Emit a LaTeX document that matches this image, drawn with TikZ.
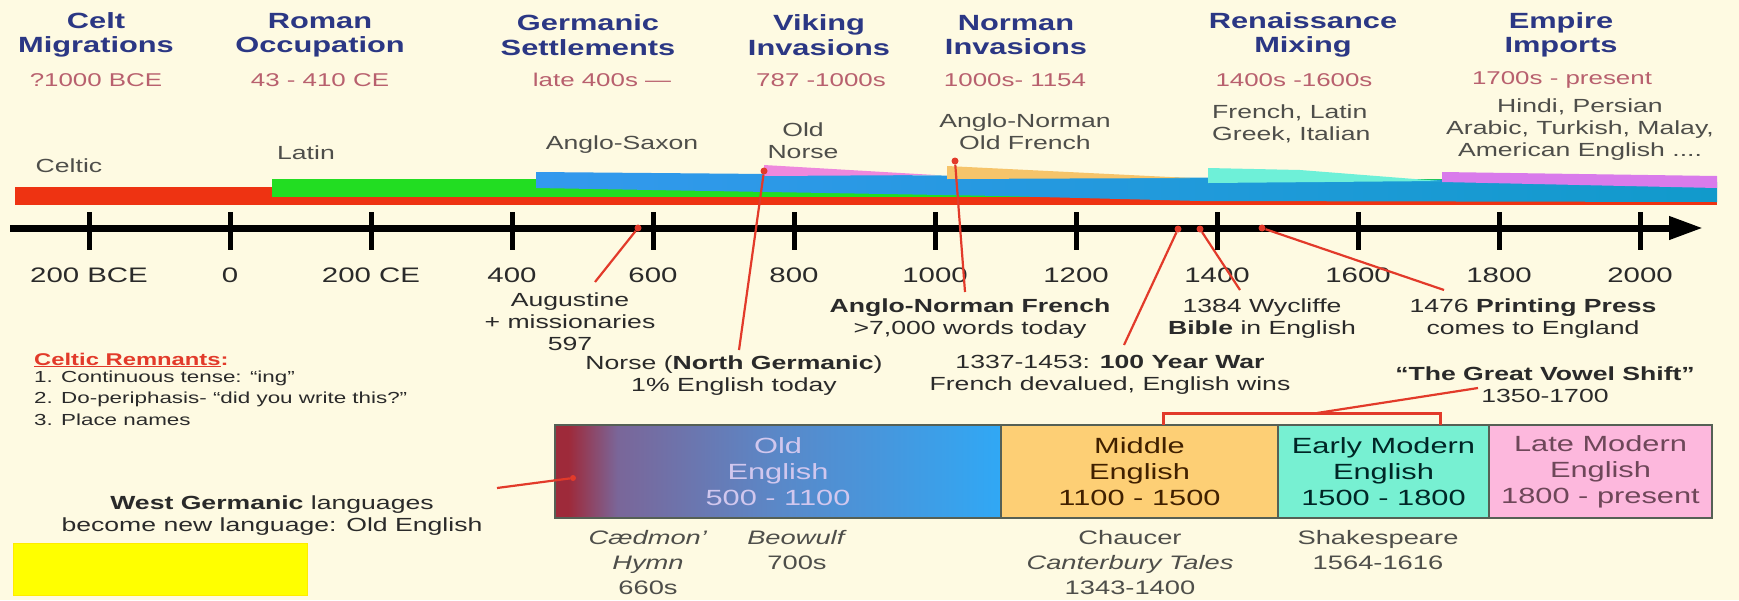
\documentclass[tikz,border=0pt]{standalone}
\usepackage{fontspec}
\setmainfont{Liberation Sans}[FakeStretch=1.4]
\usetikzlibrary{arrows.meta}
\definecolor{bg}{HTML}{FEFAE2}
\definecolor{navy}{HTML}{2B3784}
\definecolor{datecol}{HTML}{B8606E}
\definecolor{lbl}{HTML}{4E4E4A}
\definecolor{txt}{HTML}{2A2A2A}
\definecolor{linkred}{HTML}{E23A2A}
\definecolor{bRed}{HTML}{EE3312}
\definecolor{bGreen}{HTML}{22DD22}
\definecolor{bBlueA}{HTML}{3399EE}
\definecolor{bBlueB}{HTML}{119ACB}
\definecolor{bPink}{HTML}{EE88DD}
\definecolor{bOrange}{HTML}{F6C46A}
\definecolor{bCyan}{HTML}{6EF0D8}
\definecolor{bPurple}{HTML}{D97BEB}
\definecolor{oeA}{HTML}{9E2A3A}
\definecolor{oeB}{HTML}{7A6699}
\definecolor{oeC}{HTML}{5A88C8}
\definecolor{oeD}{HTML}{30A8F5}
\definecolor{meFill}{HTML}{FDCF75}
\definecolor{emFill}{HTML}{77F0D2}
\definecolor{lmFill}{HTML}{FDB8DD}
\definecolor{eraLine}{HTML}{556055}
\definecolor{yel}{HTML}{FFFF00}
\pgfdeclarehorizontalshading{oldeng}{100bp}{color(0bp)=(oeA); color(25bp)=(oeA); color(26.5bp)=(oeA); color(32bp)=(oeB); color(50bp)=(oeC); color(75bp)=(oeD); color(100bp)=(oeD)}
\tikzset{
  ttl/.style={font=\fontsize{22}{24.5}\selectfont\bfseries, text=navy, align=center, inner sep=0pt},
  dte/.style={font=\fontsize{18.5}{20}\selectfont, text=datecol, inner sep=0pt},
  lng/.style={font=\fontsize{19}{22}\selectfont, text=lbl, align=center, inner sep=0pt},
  yr/.style={font=\fontsize{21}{22}\selectfont, text=txt, inner sep=0pt},
  note/.style={font=\fontsize{19}{22}\selectfont, text=txt, align=center, inner sep=0pt},
  small/.style={font=\fontsize{16}{18}\selectfont, text=txt, anchor=west, inner sep=0pt},
  era/.style={draw=eraLine, line width=2.5pt, minimum height=93pt, inner sep=0pt, align=center,
              font=\fontsize{22}{26}\selectfont},
  btm/.style={font=\fontsize{19.5}{25}\selectfont, text=lbl, align=center, inner sep=0pt},
  link/.style={draw=linkred, line width=2.2pt},
  rdot/.style={circle, fill=linkred, inner sep=0pt, minimum size=7pt},
  tickmark/.style={line width=5pt, draw=black},
}
\begin{document}
\begin{tikzpicture}[x=1pt,y=-1pt]
\useasboundingbox (0,0) rectangle (1739,600);
\fill[bg] (0,0) rectangle (1739,600);

% ---- titles
\node[ttl] (t1) at (96,35) {Celt\\Migrations};
\node[ttl] (t2) at (320,35) {Roman\\Occupation};
\node[ttl] (t3) at (588,35) {Germanic\\Settlements};
\node[ttl] (t4) at (819,35) {Viking\\Invasions};
\node[ttl] (t5) at (1016,35) {Norman\\Invasions};
\node[ttl] (t6) at (1303,35) {Renaissance\\Mixing};
\node[ttl] (t7) at (1561,35) {Empire\\Imports};
% ---- dates
\node[dte] (d1) at (96,80) {?1000 BCE};
\node[dte] (d2) at (320,80) {43 - 410 CE};
\node[dte] (d3) at (602,80) {late 400s —};
\node[dte] (d4) at (821,80) {787 -1000s};
\node[dte] (d5) at (1015,80) {1000s- 1154};
\node[dte] (d6) at (1294,80) {1400s -1600s};
\node[dte] (d7) at (1562,80) {1700s - present};

% ---- language labels
\node[lng] (l1) at (69,166) {Celtic};
\node[lng] (l2) at (306,153) {Latin};
\node[lng] (l3) at (622,145) {Anglo-Saxon};
\node[lng] (l4) at (803,141) {Old\\Norse};
\node[lng] (l5) at (1025,132) {Anglo-Norman\\Old French};
\node[lng, align=left, anchor=west] (l6) at (1212,124) {French, Latin\\Greek, Italian};
\node[lng] (l7) at (1580,130) {Hindi, Persian\\Arabic, Turkish, Malay,\\American English ....};

% ---- bands
\fill[bRed] (15,187) rectangle (1717,205);
\fill[bGreen] (272,179) rectangle (1717,197);
\shade[left color=bBlueA, right color=bBlueB] (536,172) -- (1000,176) -- (1717,182) -- (1717,202) -- (1200,201) -- (1000,196) -- (536,188) -- cycle;
\fill[bPink] (764,165) -- (935,175) -- (764,176) -- cycle;
\fill[bOrange] (947,166) -- (1190,178) -- (947,179) -- cycle;
\fill[bCyan] (1208,168) -- (1300,170) -- (1440,181) -- (1208,183) -- cycle;
\fill[bPurple] (1442,172) -- (1717,176) -- (1717,188) -- (1442,182) -- cycle;

% ---- axis
\coordinate (axL) at (10,228);
\coordinate (axR) at (1703,228);
\draw[line width=7pt, -{Triangle[length=34pt,width=22pt]}] (axL) -- (axR);
\foreach \k/\lab in {0/200 BCE,1/0,2/200 CE,3/400,4/600,5/800,6/1000,7/1200,8/1400,9/1600,10/1800,11/2000}{
  \draw[tickmark] ({89+141*\k},212) -- ({89+141*\k},250);
  \node[yr] (yl\k) at ({89+141*\k},275) {\lab};
}

% ---- notes
\node[note] (aug) at (570,322) {Augustine\\+ missionaries\\597};
\node[note] (nor) at (734,376) {Norse (\textbf{North Germanic})\\1\% English today};
\node[note] (anf) at (970,319) {\textbf{Anglo-Norman French}\\>7,000 words today};
\node[note] (hyw) at (1110,375) {1337-1453: \textbf{100 Year War}\\French devalued, English wins};
\node[note] (wyc) at (1262,319) {1384 Wycliffe\\\textbf{Bible} in English};
\node[note] (pp) at (1533,319) {1476 \textbf{Printing Press}\\comes to England};
\node[note] (gvs) at (1545,385) {\textbf{“The Great Vowel Shift”}\\1350-1700};

\node[small, font=\fontsize{17}{18}\selectfont\bfseries, text=linkred] (cr0) at (34,360) {\underline{Celtic Remnants}:};
\node[small] (cr1) at (34,378) {1. Continuous tense: “ing”};
\node[small] (cr2) at (34,399) {2. Do-periphasis- “did you write this?”};
\node[small] (cr3) at (34,420) {3. Place names};

\node[note] (wg) at (272,516) {\textbf{West Germanic} languages\\become new language: Old English};
\fill[yel, draw=yel!85!orange, line width=1pt] (13,543) rectangle (307,595);

% ---- era boxes
\node[era, shading=oldeng, minimum width=446pt, text=oeA!10!white!85!blue] (oe) at (778,471.5) {Old\\English\\500 - 1100};
\node[era, fill=meFill, minimum width=277pt, text=black!75!orange] (me) at (1139.5,471.5) {Middle\\English\\1100 - 1500};
\node[era, fill=emFill, minimum width=211pt, text=black!70!teal] (em) at (1383.5,471.5) {Early Modern\\English\\1500 - 1800};
\node[era, fill=lmFill, minimum width=223pt, text=black!65!magenta] (lm) at (1600.5,471.5) {Late Modern\\English\\1800 - present};

\node[btm] (caed) at (648,563) {\textit{Cædmon’}\\\textit{Hymn}\\660s};
\node[btm] (beo) at (797,550) {\textit{Beowulf}\\700s};
\node[btm] (chau) at (1130,563) {Chaucer\\\textit{Canterbury Tales}\\1343-1400};
\node[btm] (shak) at (1378,550) {Shakespeare\\1564-1616};

% ---- red connectors
\coordinate (augA) at (595,282);
\node[rdot] (augB) at (638,228) {};
\draw[link] (augA) -- (augB);
\coordinate (norA) at (739,350);
\node[rdot] (norB) at (764,171) {};
\draw[link] (norA) -- (norB);
\coordinate (anfA) at (965,292);
\node[rdot] (anfB) at (955,161) {};
\draw[link] (anfA) -- (anfB);
\coordinate (hywA) at (1124,345);
\node[rdot] (hywB) at (1178,229) {};
\draw[link] (hywA) -- (hywB);
\coordinate (wycA) at (1240,290);
\node[rdot] (wycB) at (1200,229) {};
\draw[link] (wycA) -- (wycB);
\coordinate (ppA) at (1444,290);
\node[rdot] (ppB) at (1262,228) {};
\draw[link] (ppA) -- (ppB);
\coordinate (gvsA) at (1478,388);
\coordinate (gvsB) at (1317,413);
\coordinate (brL) at (1163,425);
\coordinate (brR) at (1440,425);
\draw[link] (gvsA) -- (gvsB);
\draw[link, line width=3pt] (brL) -- (brL |- gvsB) -- (brR |- gvsB) -- (brR);
\coordinate (wgA) at (497,488);
\node[rdot, minimum size=6pt] (wgB) at (573,478) {};
\draw[link] (wgA) -- (wgB);
\end{tikzpicture}
\end{document}
